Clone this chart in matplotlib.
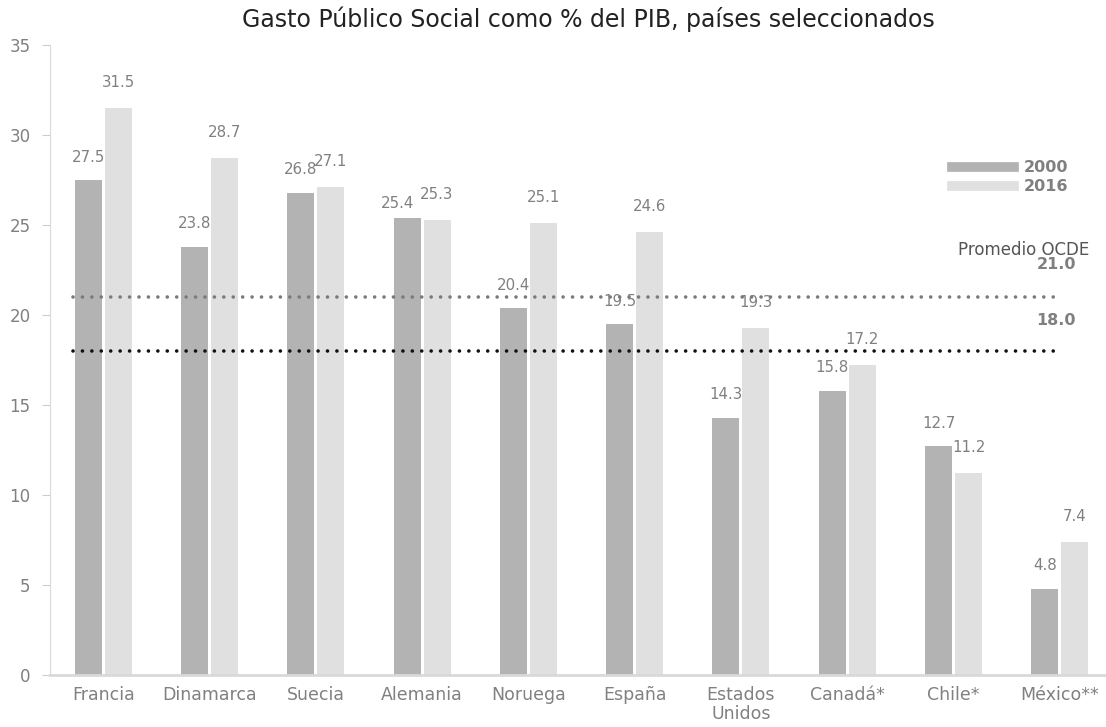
import numpy as np
import matplotlib
matplotlib.use("Agg")
import matplotlib.pyplot as plt
from matplotlib.lines import Line2D

# Datos
paises = ["Francia", "Dinamarca", "Suecia", "Alemania", "Noruega", "España",
          "Estados\nUnidos", "Canadá*", "Chile*", "México**"]
gasto_2000 = [27.5, 23.8, 26.8, 25.4, 20.4, 19.5, 14.3, 15.8, 12.7, 4.8]
gasto_2016 = [31.5, 28.7, 27.1, 25.3, 25.1, 24.6, 19.3, 17.2, 11.2, 7.4]
promedio_2016 = 21.0
promedio_2000 = 18.0

c2000 = "#b3b3b3"
c2016 = "#e0e0e0"
gris_txt = "#808080"

plt.rcParams['font.family'] = ['DejaVu Sans']

fig = plt.figure(figsize=(11.06, 7.27), dpi=100)
ax = fig.add_axes([50 / 1106, 1 - 675 / 727, 1063 / 1106, 630 / 727])

x = np.arange(len(paises))
w = 0.254
off = 0.141
b1 = ax.bar(x - off, gasto_2000, w, color=c2000, zorder=2)
b2 = ax.bar(x + off, gasto_2016, w, color=c2016, zorder=2)

# Etiquetas de valores (Alemania 2000 se corre para no chocar)
ajuste_2000 = {3: (-7, 5)}
for i, (rect, v) in enumerate(zip(b1, gasto_2000)):
    dx, dy = ajuste_2000.get(i, (0, 11))
    ax.annotate(f"{v:.1f}", (rect.get_x() + rect.get_width() / 2, v),
                xytext=(dx, dy), textcoords="offset points", ha="center",
                va="bottom", fontsize=10.8, color=gris_txt)
for rect, v in zip(b2, gasto_2016):
    ax.annotate(f"{v:.1f}", (rect.get_x() + rect.get_width() / 2, v),
                xytext=(0, 13), textcoords="offset points", ha="center",
                va="bottom", fontsize=10.8, color=gris_txt)

# Promedios OCDE
ax.plot([-0.284, 8.98], [promedio_2016] * 2, color="#7a7a7a", lw=2.6,
        ls=(0, (0.01, 2.6)), dash_capstyle="round", zorder=3)
ax.plot([-0.284, 8.98], [promedio_2000] * 2, color="#111111", lw=2.6,
        ls=(0, (0.01, 2.6)), dash_capstyle="round", zorder=3)
ax.text(9.28, 23.6, "Promedio OCDE", ha="right", va="center",
        fontsize=12, color="#555555")
ax.text(9.15, 22.8, f"{promedio_2016:.1f}", ha="right", va="center",
        fontsize=11.5, color=gris_txt, fontweight="bold")
ax.text(9.15, 19.7, f"{promedio_2000:.1f}", ha="right", va="center",
        fontsize=11.5, color=gris_txt, fontweight="bold")

# Leyenda
handles = [Line2D([0], [0], color=c2000, lw=7),
           Line2D([0], [0], color=c2016, lw=7)]
leg = ax.legend(handles, ["2000", "2016"], loc="upper left",
                bbox_to_anchor=(0.835, 0.84), frameon=False,
                handlelength=3.9, handletextpad=0.6, labelspacing=0.25,
                prop={"weight": "bold", "size": 11.5})
for t in leg.get_texts():
    t.set_color(gris_txt)

ax.set_xlim(-0.5, 9.5)
ax.set_ylim(0, 35)
ax.set_yticks(range(0, 36, 5))
ax.set_xticks(x)
ax.set_xticklabels(paises, fontsize=12.5, color=gris_txt, linespacing=1.05)
ax.tick_params(axis="y", labelsize=12, labelcolor=gris_txt, color="#cccccc",
               length=6, pad=8)
ax.tick_params(axis="x", length=0, pad=8)

for s in ["top", "right"]:
    ax.spines[s].set_visible(False)
ax.spines["left"].set_color("#d9d9d9")
ax.spines["bottom"].set_color("#d9d9d9")
ax.spines["bottom"].set_linewidth(2)

fig.text(588 / 1106, 1 - 19 / 727, "Gasto Público Social como % del PIB, países seleccionados",
         ha="center", va="center", fontsize=17, color="#222222")

fig.savefig("out.png", dpi=100)
